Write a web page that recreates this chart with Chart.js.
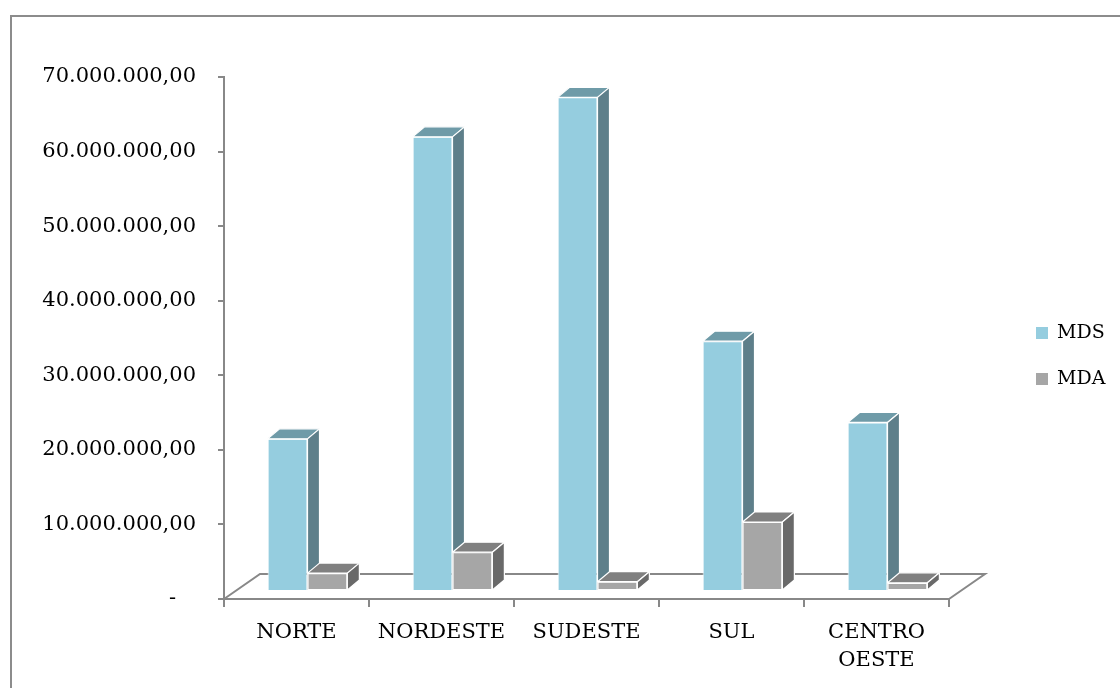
<!DOCTYPE html>
<html>
<head>
<meta charset="utf-8">
<script src="https://cdn.jsdelivr.net/npm/chart.js@4"></script>
<style>
  body { margin: 0; overflow: hidden; background: #fff; }
  #caixa { position: relative; width: 1120px; height: 688px; }
</style>
</head>
<body>
<div id="caixa"><canvas id="grafico"></canvas></div>
<script>
// Dados
const regioes = ['NORTE', 'NORDESTE', 'SUDESTE', 'SUL', ['CENTRO', 'OESTE']];
const valoresMDS = [20400000, 60900000, 66200000, 33500000, 22600000];
const valoresMDA = [2400000, 5200000, 1250000, 9250000, 1100000];
const rotulosSeries = ['MDS', 'MDA'];

const corMDS = { frente: '#95cddf', topo: '#6f9ba8', lado: '#5e7f8a' };
const corMDA = { frente: '#a6a6a6', topo: '#808080', lado: '#696969' };
const cinza = '#888888';
const fonte = '"DejaVu Serif", "Liberation Serif", serif';

// formato 70.000.000,00
function formatarValor(v) {
  if (v === 0) return '-   ';
  const inteiro = Math.round(v).toString().replace(/\B(?=(\d{3})+(?!\d))/g, '.');
  return inteiro + ',00';
}

// profundidade do "3D"
const desloc = { x: 11, y: -8 };   // frente das barras em relação ao eixo
const prof = { x: 12, y: -10 };    // espessura das barras
const piso = { x: 36, y: -25 };    // fundo do piso

function desenharFaces(ctx, barra, cores, refazerFrente) {
  const p = barra.getProps(['x', 'y', 'base', 'width'], true);
  const esq = p.x - p.width / 2;
  const dir = p.x + p.width / 2;
  ctx.strokeStyle = '#ffffff';
  ctx.lineWidth = 1.2;
  ctx.lineJoin = 'round';
  if (refazerFrente) {
    ctx.fillStyle = cores.frente;
    ctx.fillRect(esq, p.y, p.width, p.base - p.y);
    ctx.strokeRect(esq + 0.5, p.y + 0.5, p.width - 1, p.base - p.y - 1);
  }
  // topo
  ctx.beginPath();
  ctx.moveTo(esq, p.y);
  ctx.lineTo(esq + prof.x, p.y + prof.y);
  ctx.lineTo(dir + prof.x, p.y + prof.y);
  ctx.lineTo(dir, p.y);
  ctx.closePath();
  ctx.fillStyle = cores.topo;
  ctx.fill();
  ctx.stroke();
  // lado
  ctx.beginPath();
  ctx.moveTo(dir, p.y);
  ctx.lineTo(dir + prof.x, p.y + prof.y);
  ctx.lineTo(dir + prof.x, p.base + prof.y);
  ctx.lineTo(dir, p.base);
  ctx.closePath();
  ctx.fillStyle = cores.lado;
  ctx.fill();
  ctx.stroke();
}

const plugin3D = {
  id: 'efeito3D',
  beforeDraw(chart) {
    const ctx = chart.ctx;
    ctx.save();
    ctx.strokeStyle = '#8c8c8c';
    ctx.lineWidth = 2;
    ctx.strokeRect(11, 16, 1300, 900);
    ctx.restore();
  },
  beforeDatasetsDraw(chart) {
    const ctx = chart.ctx;
    const a = chart.chartArea;
    ctx.save();
    ctx.strokeStyle = cinza;
    ctx.lineWidth = 2;
    ctx.beginPath();
    ctx.moveTo(a.left, a.bottom);
    ctx.lineTo(a.left + piso.x, a.bottom + piso.y);
    ctx.lineTo(a.right + piso.x, a.bottom + piso.y);
    ctx.lineTo(a.right, a.bottom);
    ctx.stroke();
    ctx.restore();
    ctx.save();
    ctx.translate(desloc.x, desloc.y);
  },
  afterDatasetsDraw(chart) {
    const ctx = chart.ctx;
    const barrasMDS = chart.getDatasetMeta(0).data;
    const barrasMDA = chart.getDatasetMeta(1).data;
    barrasMDS.forEach(function (barra, i) {
      desenharFaces(ctx, barra, corMDS, false);
      desenharFaces(ctx, barrasMDA[i], corMDA, true);
    });
    ctx.restore();
  },
  afterDraw(chart) {
    // legenda
    const ctx = chart.ctx;
    const itens = [corMDS.frente, corMDA.frente];
    ctx.save();
    ctx.font = '19px ' + fonte;
    ctx.textBaseline = 'middle';
    itens.forEach(function (cor, i) {
      const y = 333 + i * 46;
      ctx.fillStyle = cor;
      ctx.fillRect(1036, y - 6, 12, 12);
      ctx.fillStyle = '#000';
      ctx.fillText(rotulosSeries[i], 1057, y);
    });
    ctx.restore();
  }
};

new Chart(document.getElementById('grafico'), {
  type: 'bar',
  data: {
    labels: regioes,
    datasets: [{
      label: rotulosSeries[0],
      data: valoresMDS,
      backgroundColor: corMDS.frente,
      borderColor: '#ffffff',
      borderWidth: 1
    }, {
      label: rotulosSeries[1],
      data: valoresMDA,
      backgroundColor: corMDA.frente,
      borderColor: '#ffffff',
      borderWidth: 1
    }]
  },
  options: {
    responsive: true,
    maintainAspectRatio: false,
    animation: false,
    layout: { padding: { top: 77, right: 171, left: 0, bottom: 0 } },
    datasets: { bar: { categoryPercentage: 0.55, barPercentage: 1 } },
    scales: {
      y: {
        min: 0,
        max: 70000000,
        ticks: {
          stepSize: 10000000,
          color: '#000',
          padding: 22,
          font: { family: fonte, size: 21 },
          callback: formatarValor
        },
        grid: { drawOnChartArea: false, color: cinza, lineWidth: 2, tickLength: 6 },
        border: { color: cinza, width: 2 },
        afterFit(escala) { escala.width = 224; }
      },
      x: {
        ticks: {
          color: '#000',
          padding: 11,
          maxRotation: 0,
          font: { family: fonte, size: 21, lineHeight: 1.35 }
        },
        grid: { drawOnChartArea: false, color: cinza, lineWidth: 2, tickLength: 8, offset: true },
        border: { color: cinza, width: 2 },
        afterFit(escala) { escala.height = 89; }
      }
    },
    plugins: {
      legend: { display: false },
      tooltip: { enabled: false }
    }
  },
  plugins: [plugin3D]
});
</script>
</body>
</html>
